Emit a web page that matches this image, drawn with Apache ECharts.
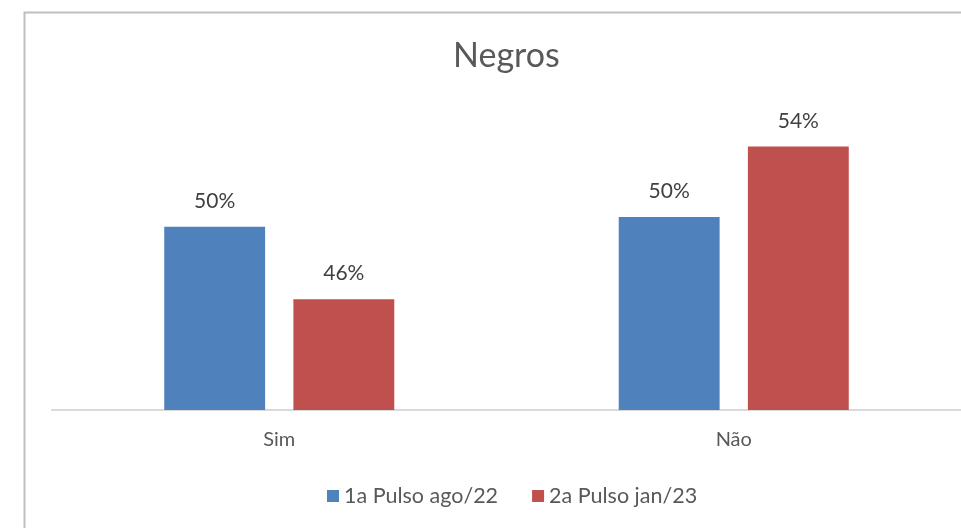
<!DOCTYPE html>
<html>
<head>
<meta charset="utf-8">
<script src="https://cdn.jsdelivr.net/npm/echarts@6/dist/echarts.min.js"></script>
<style>
  html, body { margin: 0; padding: 0; background: #fff; }
  #chart { width: 961px; height: 528px; }
</style>
</head>
<body>
<div id="chart"></div>
<script>
// data (percent)
const categories = ["Sim", "Não"];
const seriesNames = ["1a Pulso ago/22", "2a Pulso jan/23"];
const pulso1 = [49.6, 50.1];
const pulso2 = [45.8, 53.8];

const font = "Lato, 'Open Sans', sans-serif";
const pct = (p) => Math.round(p.value) + "%";

var myChart = echarts.init(document.getElementById("chart"));

let option = {
    backgroundColor: "#fff",
    animation: false,
    graphic: [
        {
            type: "rect",
            left: 22,
            top: 10,
            shape: { width: 960, height: 530 },
            style: { fill: "none", stroke: "#bfbfbf", lineWidth: 2 },
            silent: true,
        },
    ],
    title: {
        text: "Negros",
        left: 448,
        top: 34,
        textStyle: {
            fontFamily: font,
            fontSize: 34,
            fontWeight: "normal",
            color: "#595959",
        },
    },
    legend: {
        data: seriesNames,
        bottom: 16,
        left: 322,
        icon: "rect",
        itemWidth: 12,
        itemHeight: 12,
        itemGap: 34,
        textStyle: { fontFamily: font, fontSize: 21.5, color: "#595959" },
    },
    grid: {
        left: 52,
        right: -2,
        top: 28,
        bottom: 118,
    },
    xAxis: {
        type: "category",
        data: categories,
        axisTick: { show: false },
        axisLine: { lineStyle: { color: "#d9d9d9", width: 2 } },
        axisLabel: {
            fontFamily: font,
            fontSize: 20,
            color: "#595959",
            margin: 20,
        },
    },
    yAxis: {
        type: "value",
        min: 40,
        max: 60,
        show: false,
        splitLine: { show: false },
    },
    series: [
        {
            name: seriesNames[0],
            type: "bar",
            data: pulso1,
            barWidth: "22.2%",
            barGap: "28%",
            itemStyle: { color: "#4f81bd" },
            label: {
                show: true,
                position: "top",
                distance: 15,
                formatter: pct,
                fontFamily: font,
                fontSize: 21,
                color: "#404040",
            },
        },
        {
            name: seriesNames[1],
            type: "bar",
            data: pulso2,
            barWidth: "22.2%",
            barGap: "28%",
            itemStyle: { color: "#c0504d" },
            label: {
                show: true,
                position: "top",
                distance: 15,
                formatter: pct,
                fontFamily: font,
                fontSize: 21,
                color: "#404040",
            },
        },
    ],
};
myChart.setOption(option);
</script>
</body>
</html>
